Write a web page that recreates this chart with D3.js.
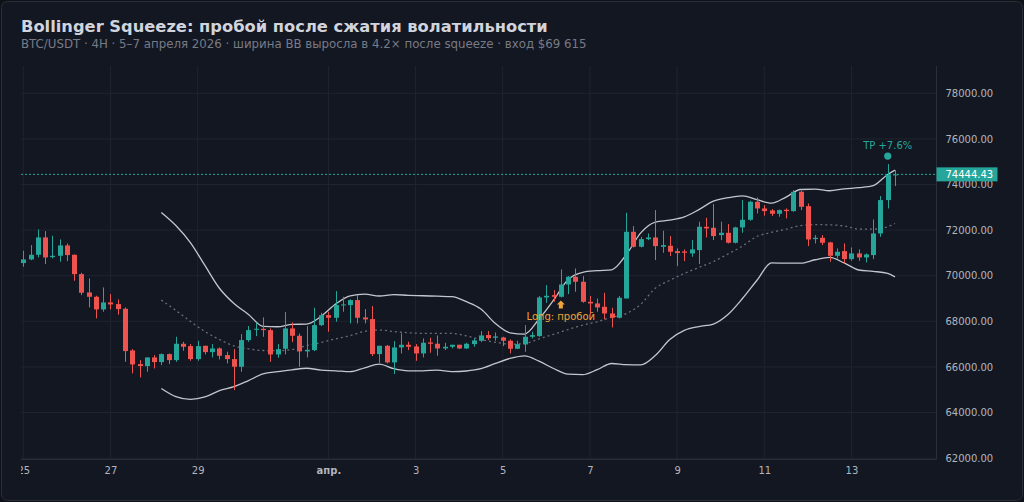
<!DOCTYPE html>
<html>
<head>
<meta charset="utf-8">
<script src="https://cdn.jsdelivr.net/npm/d3@7/dist/d3.min.js"></script>
<style>
    html, body { margin: 0; padding: 0; background: #0e1118; }
    svg { display: block; }
</style>
</head>
<body>
<svg id="chart" width="1024" height="502"></svg>
<script>
// BTC/USDT 4H candles (first bar = 25 March 00:00 UTC)
const startTime = "2026-03-25T00:00:00Z";
const candleOpen = [
    70553, 70714, 70918, 71679, 70816, 70874, 71328, 70918, 70070, 69266,
    69076, 68521, 68828, 68755, 68550, 66722, 66123, 66035, 66415, 66211,
    66561, 66298, 67015, 66912, 66342, 66927, 66649, 66810, 66518, 66342,
    66006, 67176, 67629, 67672, 67613, 66546, 66795, 67687, 67365, 66678,
    66736, 67833, 68271, 68155, 68711, 68711, 68930, 68170, 68097, 66562,
    66927, 66196, 66854, 66971, 66898, 66591, 67073, 67015, 66810, 66883,
    66971, 66810, 67000, 67146, 67395, 67278, 67293, 67146, 66796, 66985,
    67321, 67350, 69046, 69149, 69076, 69615, 69953, 69734, 68856, 68783,
    68637, 68345, 68155, 69002, 71926, 71269, 71605, 71678, 71269, 71313,
    71079, 71064, 70977, 71123, 72146, 72102, 71781, 71883, 71444, 72117,
    72453, 73243, 72950, 72863, 72716, 72892, 72833, 73681, 73052, 71605,
    71664, 71459, 70874, 71079, 70728, 70977, 70801, 70903, 71854, 73316,
    74412
];
const candleHigh = [
    71094, 71342, 72029, 71956, 71752, 71591, 71415, 70930, 70128, 69880,
    69120, 69486, 69193, 68960, 68608, 66781, 66298, 66415, 66518, 66590,
    66590, 67322, 67102, 67000, 67146, 66927, 67000, 66854, 66664, 66781,
    67439, 67790, 67936, 68169, 67687, 67000, 68403, 67950, 67467, 67789,
    68593, 68374, 68418, 69325, 69076, 68960, 69150, 68535, 68667, 66927,
    66956, 67132, 67468, 67102, 67000, 67249, 67278, 67380, 67059, 66971,
    66971, 67059, 67249, 67570, 67570, 67512, 67322, 67205, 67146, 67833,
    67540, 69105, 69587, 69368, 70274, 69982, 70318, 69982, 69105, 68999,
    69251, 68593, 69105, 72760, 72175, 71707, 71853, 72877, 71971, 71737,
    71196, 71152, 71562, 72366, 72541, 73140, 72366, 72263, 72146, 73316,
    73287, 73433, 73097, 72921, 72906, 72950, 73755, 73725, 73169, 71781,
    71781, 71488, 71196, 71415, 71240, 71152, 70977, 72467, 73491, 74894,
    74632
];
const candleLow = [
    70392, 70680, 70801, 70509, 70757, 70611, 70640, 69778, 69149, 68608,
    68126, 68418, 68521, 68287, 66225, 65714, 65538, 65787, 65933, 66079,
    66123, 66225, 66708, 66269, 66269, 66547, 66415, 66328, 66152, 64982,
    65787, 67102, 67351, 67321, 66225, 66400, 66546, 67087, 66005, 66415,
    66692, 67789, 67541, 67980, 68419, 67907, 67907, 67907, 66474, 66181,
    66152, 65685, 66591, 66737, 66269, 66415, 66620, 66489, 66737, 66810,
    66781, 66781, 66883, 67088, 67176, 67146, 66912, 66591, 66781, 66663,
    67248, 67321, 68812, 68857, 69046, 69192, 69295, 68812, 68315, 68418,
    68082, 67731, 68126, 69002, 71240, 71240, 71561, 70684, 71006, 70860,
    70421, 70640, 70830, 70509, 71678, 71562, 71562, 71415, 71415, 71883,
    72409, 72731, 72629, 72614, 72585, 72512, 72804, 72877, 71298, 71415,
    71342, 70611, 70757, 70538, 70655, 70655, 70582, 70728, 71707, 72950,
    73930
];
const candleClose = [
    70714, 70918, 71679, 70801, 70874, 71328, 70904, 70070, 69252, 69076,
    68521, 68828, 68740, 68535, 66693, 66108, 66035, 66415, 66211, 66561,
    66298, 67015, 66883, 66342, 66912, 66649, 66810, 66488, 66342, 66006,
    67176, 67614, 67673, 67613, 66546, 66780, 67687, 67365, 66678, 66751,
    67833, 68271, 68154, 68711, 68740, 68930, 68155, 68082, 66562, 66927,
    66196, 66854, 66971, 66883, 66591, 67059, 67015, 66810, 66883, 66971,
    66810, 67015, 67161, 67380, 67263, 67336, 67146, 66796, 67000, 67321,
    67394, 69046, 69119, 69076, 69615, 69953, 69734, 68856, 68783, 68608,
    68345, 68155, 69032, 71926, 71269, 71605, 71678, 71298, 71342, 71050,
    70991, 71006, 71152, 72146, 72073, 71737, 71883, 71444, 72117, 72453,
    73243, 72950, 72833, 72716, 72877, 72833, 73681, 73023, 71591, 71664,
    71444, 70874, 71050, 70728, 70977, 70801, 70933, 71854, 73316, 74412,
    74444.43
];

// Bollinger bands (20, 2) at these bar numbers
const bandIdx = [
    19, 21, 23, 25, 27, 29, 31, 33, 35, 37, 39, 41, 43, 45, 47, 49, 51, 53,
    55, 57, 59, 61, 63, 65, 67, 69, 71, 73, 75, 77, 79, 81, 83, 85, 87, 89,
    91, 93, 95, 97, 99, 101, 103, 105, 107, 109, 111, 113, 115, 117, 119, 120
];
const upperBand = [
    72775, 72200, 71450, 70450, 69450, 68780, 68300, 67780, 67760, 67865, 67877, 68220, 68760, 69120, 69190, 69110, 69170, 69140,
    69120, 69100, 69080, 68860, 68540, 67900, 67497, 67440, 68100, 68930, 69830, 70150, 70220, 70260, 70920, 71880, 72350, 72440,
    72580, 72900, 73270, 73420, 73500, 73340, 73180, 73450, 73780, 73800, 73725, 73810, 73860, 73950, 74440, 74630
];
const midBand = [
    68930, 68480, 68000, 67550, 67200, 66920, 66790, 66720, 66710, 66760, 66930, 67070, 67230, 67370, 67560, 67614, 67550, 67500,
    67470, 67468, 67468, 67360, 67200, 67080, 67000, 67020, 67230, 67430, 67640, 67830, 67980, 68180, 68340, 68750, 69450, 69800,
    70100, 70360, 70620, 70950, 71300, 71720, 71900, 72040, 72200, 72240, 72230, 72180, 72050, 72040, 72150, 72290
];
const lowerBand = [
    65056, 64700, 64580, 64680, 64960, 65130, 65400, 65690, 65790, 65870, 65940, 65860, 65830, 65790, 65960, 66120, 65920, 65830,
    65830, 65860, 65790, 65820, 65920, 66150, 66370, 66480, 66250, 65930, 65680, 65660, 65880, 66150, 66100, 66090, 66500, 67200,
    67600, 67770, 67880, 68300, 69000, 69800, 70560, 70550, 70550, 70700, 70800, 70560, 70250, 70190, 70100, 69950
];

const priceTicks = [62000, 64000, 66000, 68000, 70000, 72000, 74000, 76000, 78000];
const dateTicks = ["2026-03-25", "2026-03-27", "2026-03-29", "2026-04-01", "2026-04-03",
    "2026-04-05", "2026-04-07", "2026-04-09", "2026-04-11", "2026-04-13"];
const dateLabels = ["25", "27", "29", "апр.", "3", "5", "7", "9", "11", "13"];

const lastPrice = 74444.43;
const entryBar = 75, entryLabel = "Long: пробой";
const tpBar = 120, tpLabel = "TP +7.6%";

const upColor = "#26a69a", downColor = "#ef5350";
const font = "'DejaVu Sans', sans-serif";

const svg = d3.select("#chart");
let plotLeft = 21, plotRight = 936.5, plotTop = 66, plotBottom = 459;

const t0 = new Date(startTime);
const candles = candleClose.map(function(c, i) {
    return {t: d3.utcHour.offset(t0, 4 * i), o: candleOpen[i], h: candleHigh[i], l: candleLow[i], c: c};
});

let x = d3.scaleUtc()
    .domain([t0, d3.utcHour.offset(t0, 4 * 120)])
    .range([23.3, 895]);
let y = d3.scaleLinear()
    .domain([62000, 78000])
    .range([458.1, 93.3]);

// card
svg.append("rect")
    .attr("x", 1.5).attr("y", 1.5)
    .attr("width", 1021).attr("height", 499)
    .attr("rx", 6)
    .attr("fill", "#131722")
    .attr("stroke", "#2a2e39");

svg.append("text")
    .attr("x", 21).attr("y", 32)
    .attr("font-family", font).attr("font-weight", "bold").attr("font-size", 16.3)
    .attr("fill", "#d1d4dc")
    .text("Bollinger Squeeze: пробой после сжатия волатильности");
svg.append("text")
    .attr("x", 21).attr("y", 48)
    .attr("font-family", font).attr("font-size", 11.8)
    .attr("fill", "#787b86")
    .text("BTC/USDT · 4H · 5–7 апреля 2026 · ширина BB выросла в 4.2× после squeeze · вход $69 615");

svg.append("clipPath").attr("id", "plotClip")
    .append("rect")
    .attr("x", plotLeft).attr("y", plotTop)
    .attr("width", plotRight - plotLeft).attr("height", plotBottom - plotTop);
svg.append("clipPath").attr("id", "timeClip")
    .append("rect")
    .attr("x", plotLeft).attr("y", plotBottom)
    .attr("width", plotRight - plotLeft).attr("height", 40);

const plot = svg.append("g").attr("clip-path", "url(#plotClip)");

// grid
plot.selectAll("line.hgrid")
    .data(priceTicks)
    .enter().append("line")
    .attr("x1", plotLeft).attr("x2", plotRight)
    .attr("y1", function(d) { return y(d); })
    .attr("y2", function(d) { return y(d); })
    .attr("stroke", "#1f2430");
const dates = dateTicks.map(function(d) { return new Date(d + "T00:00:00Z"); });
plot.selectAll("line.vgrid")
    .data(dates)
    .enter().append("line")
    .attr("x1", function(d) { return x(d); })
    .attr("x2", function(d) { return x(d); })
    .attr("y1", plotTop).attr("y2", plotBottom)
    .attr("stroke", "#1f2430");

// bands
const band = d3.line()
    .x(function(d) { return x(candles[d[0]].t); })
    .y(function(d) { return y(d[1]); })
    .curve(d3.curveMonotoneX);
plot.append("path")
    .datum(bandIdx.map(function(b, i) { return [b, upperBand[i]]; }))
    .attr("d", band)
    .attr("fill", "none").attr("stroke", "#c3c6ce").attr("stroke-width", 1.3);
plot.append("path")
    .datum(bandIdx.map(function(b, i) { return [b, lowerBand[i]]; }))
    .attr("d", band)
    .attr("fill", "none").attr("stroke", "#c3c6ce").attr("stroke-width", 1.3);
plot.append("path")
    .datum(bandIdx.map(function(b, i) { return [b, midBand[i]]; }))
    .attr("d", band)
    .attr("fill", "none").attr("stroke", "#6a6e7a").attr("stroke-width", 1.3)
    .attr("stroke-dasharray", "2,3");

// last price line
plot.append("line")
    .attr("x1", plotLeft).attr("x2", plotRight)
    .attr("y1", y(lastPrice)).attr("y2", y(lastPrice))
    .attr("stroke", upColor).attr("stroke-width", 1)
    .attr("stroke-dasharray", "2,2");

// candles
const bar = plot.selectAll("g.candle")
    .data(candles)
    .enter().append("g")
    .attr("class", "candle");
bar.append("line")
    .attr("x1", function(d) { return Math.round(x(d.t)) + 0.5; })
    .attr("x2", function(d) { return Math.round(x(d.t)) + 0.5; })
    .attr("y1", function(d) { return y(d.h); })
    .attr("y2", function(d) { return y(d.l); })
    .attr("stroke", function(d) { return d.c >= d.o ? upColor : downColor; });
bar.append("rect")
    .attr("x", function(d) { return Math.round(x(d.t)) - 2; })
    .attr("width", 5)
    .attr("y", function(d) { return y(Math.max(d.o, d.c)); })
    .attr("height", function(d) { return Math.max(1, Math.abs(y(d.o) - y(d.c))); })
    .attr("fill", function(d) { return d.c >= d.o ? upColor : downColor; });

// markers
const entry = candles[entryBar - 1];
const ex = x(entry.t), ey = y(entry.l);
plot.append("path")
    .attr("d", "M" + ex + "," + (ey + 3) + "l4,4h-2v4h-4v-4h-2z")
    .attr("fill", "#f0a43a");
plot.append("text")
    .attr("x", ex).attr("y", ey + 23)
    .attr("text-anchor", "middle")
    .attr("font-family", font).attr("font-size", 10)
    .attr("fill", "#f0a43a")
    .text(entryLabel);

const tp = candles[tpBar - 1];
plot.append("circle")
    .attr("cx", x(tp.t)).attr("cy", y(tp.h) - 8)
    .attr("r", 3.6)
    .attr("fill", upColor);
plot.append("text")
    .attr("x", x(tp.t)).attr("y", y(tp.h) - 15)
    .attr("text-anchor", "middle")
    .attr("font-family", font).attr("font-size", 10)
    .attr("fill", upColor)
    .text(tpLabel);

// price scale
svg.append("line")
    .attr("x1", plotRight).attr("x2", plotRight)
    .attr("y1", plotTop).attr("y2", plotBottom)
    .attr("stroke", "#2a2e39");
svg.append("line")
    .attr("x1", plotLeft).attr("x2", plotRight)
    .attr("y1", plotBottom + 0.5).attr("y2", plotBottom + 0.5)
    .attr("stroke", "#2a2e39");

const yAxis = svg.append("g")
    .attr("transform", "translate(" + plotRight + ",0)")
    .call(d3.axisRight(y).tickValues(priceTicks).tickFormat(d3.format(".2f")).tickSize(0).tickPadding(9));
yAxis.select(".domain").remove();
yAxis.selectAll("text")
    .attr("font-family", font).attr("font-size", 10)
    .attr("fill", "#b2b5be");

const ly = y(lastPrice);
svg.append("rect")
    .attr("x", plotRight).attr("y", ly - 7)
    .attr("width", 61).attr("height", 14)
    .attr("fill", upColor);
svg.append("text")
    .attr("x", plotRight + 9).attr("y", ly)
    .attr("dy", ".35em")
    .attr("font-family", font).attr("font-size", 10)
    .attr("fill", "#ffffff")
    .text(lastPrice.toFixed(2));

// time scale (labels clipped at the left edge of the plot)
const timeGroup = svg.append("g").attr("clip-path", "url(#timeClip)");
const xAxis = timeGroup.append("g")
    .attr("transform", "translate(0," + plotBottom + ")")
    .call(d3.axisBottom(x).tickValues(dates).tickSize(0).tickPadding(8)
        .tickFormat(function(d, i) { return dateLabels[i]; }));
xAxis.select(".domain").remove();
xAxis.selectAll("text")
    .attr("font-family", font).attr("font-size", 10)
    .attr("fill", "#b2b5be")
    .attr("font-weight", function(d, i) { return dateLabels[i] === "апр." ? "bold" : "normal"; });
</script>
</body>
</html>
